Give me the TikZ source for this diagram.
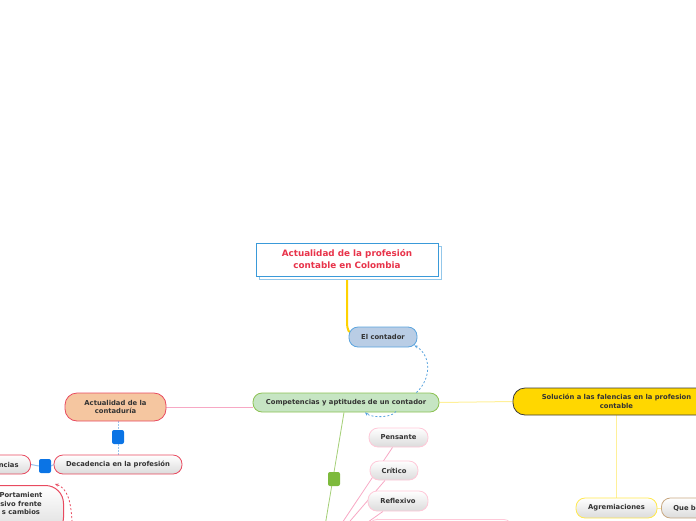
\documentclass[tikz,border=0pt]{standalone}
\usepackage{fontspec}
\setmainfont{DejaVu Sans}
\usetikzlibrary{arrows.meta,calc,backgrounds}
\definecolor{titleblue}{HTML}{3A9AD9}
\definecolor{titlered}{HTML}{E8334A}
\definecolor{txtgray}{HTML}{333333}
\definecolor{ythick}{HTML}{FFD200}
\definecolor{ylight}{HTML}{FFF099}
\definecolor{elcfill}{HTML}{B9CDE5}
\definecolor{elcdraw}{HTML}{5BA4DE}
\definecolor{compfill}{HTML}{C6E5C3}
\definecolor{compdraw}{HTML}{8CC152}
\definecolor{actfill}{HTML}{F5C6A0}
\definecolor{redb}{HTML}{E84A5F}
\definecolor{solfill}{HTML}{FFD700}
\definecolor{soldraw}{HTML}{3B3B3B}
\definecolor{pinkb}{HTML}{FFC8D8}
\definecolor{pinkline}{HTML}{F7A8C4}
\definecolor{sqblue}{HTML}{0B74E5}
\definecolor{sqgreen}{HTML}{7DBA3C}
\definecolor{lblue}{HTML}{99C4EE}
\definecolor{tanb}{HTML}{C8A882}
\definecolor{agrb}{HTML}{FFE84D}
\tikzset{
  every node/.style={font=\fontsize{6.8}{8.5}\selectfont\bfseries, text=txtgray, inner sep=0pt, align=center},
  pill/.style={draw, line width=0.8pt, rounded corners=9pt, minimum height=19pt},
  graynode/.style={pill, top color=white, bottom color=black!14},
  sqnode/.style={minimum width=12pt, minimum height=14pt, rounded corners=2pt},
  bluedash/.style={draw=elcdraw, dashed, line width=0.8pt, dash pattern=on 2pt off 2pt},
}
\begin{document}
\begin{tikzpicture}[x=1pt,y=-1pt]
\useasboundingbox (0,0) rectangle (696,520);
\clip (0,0) rectangle (696,520);

% title
\node[draw=titleblue!55, fill=white, line width=0.8pt, minimum width=182pt, minimum height=33pt] (tshadow) at (350,262.5) {};
\node[draw=titleblue, fill=white, line width=0.8pt, minimum width=182pt, minimum height=33pt,
      font=\fontsize{8.8}{12}\selectfont\bfseries, text=titlered] (title) at (347,259.5) {Actualidad de la profesión\\contable en Colombia};

% main nodes
\node[pill, fill=elcfill, draw=elcdraw, minimum width=68pt, minimum height=20pt] (elc) at (383,337) {El contador};
\node[pill, fill=compfill, draw=compdraw, minimum width=186pt] (comp) at (346,402.5) {Competencias y aptitudes de un contador};
\node[pill, fill=actfill, draw=redb, minimum width=101pt, minimum height=28pt, rounded corners=12pt] (act) at (115.5,407) {Actualidad de la\\contaduría};
\node[pill, fill=solfill, draw=soldraw, minimum width=207pt, minimum height=27pt, rounded corners=12pt] (sol) at (616.5,401.5) {Solución a las falencias en la profesion\\contable};
\node[graynode, draw=agrb, minimum width=81pt, minimum height=20pt] (agr) at (616.5,508) {Agremiaciones};
\node[graynode, draw=tanb, minimum height=20pt, anchor=west, text width=56pt, align=left, inner xsep=12pt] (queb) at (661,508) {Que b};

% children
\node[graynode, draw=pinkb, minimum width=59pt] (pens) at (398.5,437.5) {Pensante};
\node[graynode, draw=pinkb, minimum width=48pt] (crit) at (394,470.5) {Crítico};
\node[graynode, draw=pinkb, minimum width=60pt, minimum height=20pt] (refl) at (398,501) {Reflexivo};
\node[graynode, draw=pinkb, minimum width=144pt, minimum height=24pt, anchor=north west] (wide) at (368,519) {};
\coordinate (hid) at (320,556);
\node[sqnode, fill=sqgreen] (gsq) at (334,479) {};

% left side
\node[sqnode, fill=sqblue] (sq1) at (118,437) {};
\node[graynode, draw=redb, minimum width=128pt] (dec) at (118,464.5) {Decadencia en la profesión};
\node[sqnode, fill=sqblue] (sq2) at (45,466) {};
\node[graynode, draw=redb, anchor=east, text width=40pt, align=right, inner xsep=12pt] (fal) at (31,464.5) {ncias};
\node[graynode, draw=redb, line width=1pt, minimum width=104pt, minimum height=50pt, rounded corners=18pt, anchor=north east] (cpt) at (64,485) {};
\node (cpttxt) at (21,503.5) {Portamient\\sivo frente\\s cambios};

\begin{scope}[on background layer]
\clip (0,0) rectangle (696,520);
\draw[ythick, line width=2pt] (title.south) -- (347,321) .. controls (347,331) and (349,333) .. ($(elc.west)+(4,-4)$);
\draw[pinkline, line width=0.8pt] (act.east) -- (act.east -| comp.west);
\draw[ylight, line width=1pt] (comp.east) -- (sol.west);
\draw[ylight, line width=1.2pt] (sol.south) -- (agr.north);
\draw[ylight, line width=1pt] (agr.east) -- (queb.west);
\draw[sqgreen!70, line width=0.8pt] ($(comp.south)+(-2,0)$) -- (hid);
\draw[pinkline, line width=0.8pt] (hid) -- ($(pens.south)+(-6,0)$);
\draw[pinkline, line width=0.8pt] (hid) -- ($(crit.south)+(-9,0)$);
\draw[pinkline, line width=0.8pt] (hid) -- ($(refl.south)+(-15,0)$);
\draw[pinkline, line width=0.8pt] (hid) -- ($(wide.north west)+(10,0)$);
\draw[lblue, line width=1pt, dash pattern=on 1.5pt off 1.5pt] (sq1.north |- act.south) -- (sq1.north);
\draw[lblue, line width=1pt, dash pattern=on 1.5pt off 1.5pt] (sq1.south) -- (sq1.south |- dec.north);
\draw[lblue, line width=1pt] (fal.east) -- (sq2.west);
\draw[lblue, line width=1pt] (sq2.east) -- (dec.west);
\draw[ythick, line width=2pt] (fal.south -| cpttxt.west) -- (cpt.north -| cpttxt.west);
\end{scope}

% dashed relations
\draw[bluedash, -{Stealth[length=3.5pt,width=3pt]}] ($(comp.north east)+(-23,0)$) .. controls (432,378) and (431,355) .. ($(elc.south east)+(-3,-2)$);
\draw[bluedash, -{Stealth[length=3.5pt,width=3pt]}] ($(comp.south)+(50,-1)$) .. controls (392,418) and (372,418) .. ($(comp.south)+(19,0)$);
\draw[redb, dashed, line width=0.8pt, dash pattern=on 2pt off 2pt, -{Stealth[length=3.5pt,width=3pt]}] (72,522) .. controls (71,500) and (67,488) .. ($(cpt.north east)+(-9,-1)$);
\end{tikzpicture}
\end{document}
